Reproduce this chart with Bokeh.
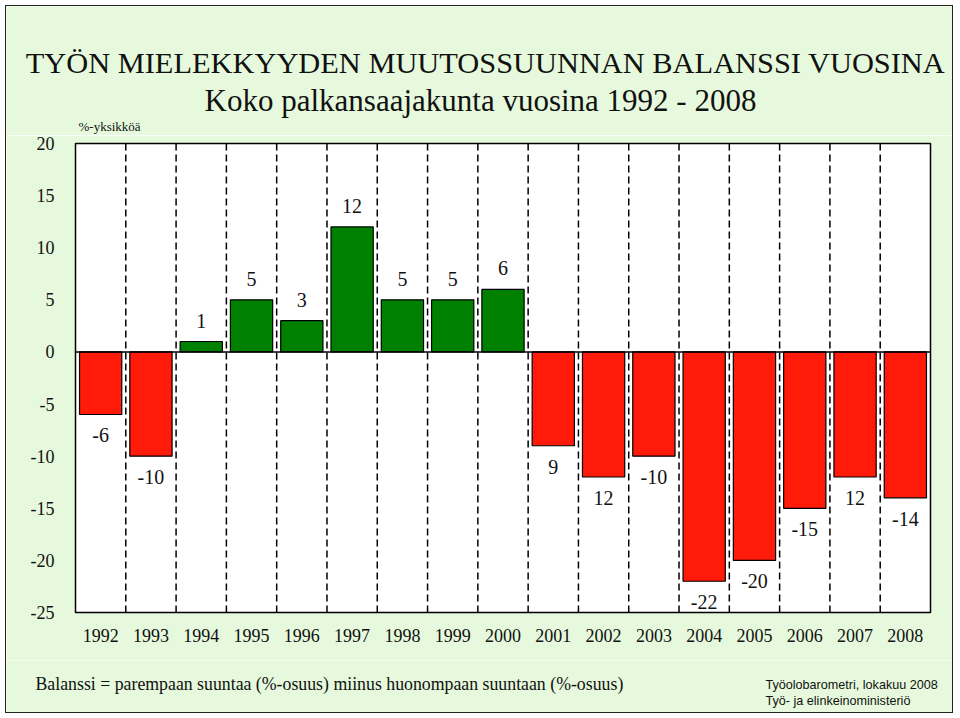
from bokeh.plotting import figure
from bokeh.models import ColumnDataSource, FixedTicker, Range1d, Span, Spacer
from bokeh.core.properties import value
from bokeh.layouts import column, row
from bokeh.embed import file_html
from bokeh.resources import INLINE

# ---------------- data ----------------
years = ["1992", "1993", "1994", "1995", "1996", "1997", "1998", "1999", "2000",
         "2001", "2002", "2003", "2004", "2005", "2006", "2007", "2008"]
values = [-6, -10, 1, 5, 3, 12, 5, 5, 6, -9, -12, -10, -22, -20, -15, -12, -14]
value_labels = ["-6", "-10", "1", "5", "3", "12", "5", "5", "6",
                "9", "12", "-10", "-22", "-20", "-15", "12", "-14"]
y_ticks = [-25, -20, -15, -10, -5, 0, 5, 10, 15, 20]
y_tick_labels = ["-25", "-20", "-15", "-10", "-5", "0", "5", "10", "15", "20"]

title_text = "TYÖN MIELEKKYYDEN MUUTOSSUUNNAN BALANSSI VUOSINA"
subtitle_text = "Koko palkansaajakunta vuosina 1992 - 2008"
unit_text = "%-yksikköä"
note_text = "Balanssi = parempaan suuntaa (%-osuus) miinus huonompaan suuntaan (%-osuus)"
source_lines = ["Työolobarometri, lokakuu 2008", "Työ- ja elinkeinoministeriö"]

# ---------------- styles / layout ----------------
OX, OY = 6, 6            # outer green panel origin on the page
IW = 946                 # inner width (6..952)
Y_HEAD_END = 135
Y_CHART_END = 660
Y_END = 712
FL, FR, FT, FB = 75, 930, 143, 612  # chart frame edges (page px)
SERIF = "Liberation Serif"
SANS = "Liberation Sans"
BG = "#e6f9dc"
RED = "#ff1a0a"
GREEN = "#008000"
INK = "#111111"


def text_panel(y0, y1):
    f = figure(width=IW, height=y1 - y0, output_backend="svg", toolbar_location=None,
               x_range=Range1d(OX, OX + IW), y_range=Range1d(y1, y0),
               x_axis_type=None, y_axis_type=None, min_border=0,
               min_border_left=0, min_border_right=0,
               min_border_top=0, min_border_bottom=0)
    f.background_fill_color = BG
    f.border_fill_color = BG
    f.outline_line_color = None
    f.grid.visible = False
    return f


def put(f, x, y, text, size, font=SERIF, align="left"):
    s = ColumnDataSource(dict(x=[x], y=[y], t=[text]))
    f.text(x="x", y="y", text="t", source=s, text_font=value(font),
           text_font_size=size, text_font_style="normal",
           text_align=align, text_baseline="middle", text_color=INK)


# header (y = vertical centre on the page)
head = text_panel(OY, Y_HEAD_END)
put(head, 485, 62, title_text, "30.4px", align="center")
put(head, 480, 100, subtitle_text, "31px", align="center")
put(head, 78, 126, unit_text, "13px")

# chart
n = len(years)
xs = [i + 0.5 for i in range(n)]
colors = [GREEN if v >= 0 else RED for v in values]
baselines = ["bottom" if v >= 0 else "top" for v in values]
offsets = [-14 if v >= 0 else 14 for v in values]
src = ColumnDataSource(dict(x=xs, top=values, color=colors, label=value_labels,
                            baseline=baselines, yoff=offsets))

p = figure(width=IW, height=Y_CHART_END - Y_HEAD_END, output_backend="svg",
           toolbar_location=None, x_range=Range1d(0, n), y_range=Range1d(-25, 20),
           min_border_left=FL - OX, min_border_right=OX + IW - FR,
           min_border_top=FT - Y_HEAD_END, min_border_bottom=Y_CHART_END - FB)
p.background_fill_color = "white"
p.border_fill_color = BG
p.outline_line_color = "black"
p.outline_line_width = 1.5
p.grid.visible = False

p.segment(x0=list(range(1, n)), y0=-25, x1=list(range(1, n)), y1=20,
          line_color="black", line_width=1.5, line_dash="7 4")
p.add_layout(Span(location=0, dimension="width", line_color="black", line_width=1.5))
p.vbar(x="x", top="top", bottom=0, width=0.84, source=src,
       fill_color="color", line_color="black", line_width=1.2)
p.text(x="x", y="top", text="label", source=src, text_align="center",
       text_baseline="baseline", y_offset="yoff",
       text_font=value(SERIF), text_font_size="20px", text_color=INK)

p.yaxis.ticker = FixedTicker(ticks=y_ticks)
p.yaxis.major_label_overrides = {t: s for t, s in zip(y_ticks, y_tick_labels)}
p.xaxis.ticker = FixedTicker(ticks=xs)
p.xaxis.major_label_overrides = {x: y for x, y in zip(xs, years)}
for ax in (p.xaxis[0], p.yaxis[0]):
    ax.axis_line_color = None
    ax.major_tick_line_color = None
    ax.minor_tick_line_color = None
    ax.major_tick_out = 0
    ax.major_tick_in = 0
    ax.major_label_text_font = SERIF
    ax.major_label_text_font_size = "18px"
    ax.major_label_text_color = INK
p.yaxis.major_label_standoff = 21
p.xaxis.major_label_standoff = 16

# footer (y = vertical centre on the page)
foot = text_panel(Y_CHART_END, Y_END)
put(foot, 35, 683, note_text, "17.8px")
put(foot, 765, 684, source_lines[0], "12.6px", font=SANS)
put(foot, 765, 700, source_lines[1], "12.6px", font=SANS)

inner = column(row(head, spacing=0), row(p, spacing=0), row(foot, spacing=0),
               spacing=0, styles={"outline": "1.5px solid #222222"})
layout = column(Spacer(width=960, height=OY),
                row(Spacer(width=OX, height=Y_END - OY), inner, spacing=0),
                spacing=0)

open("out.html", "w").write(file_html(layout, INLINE))
